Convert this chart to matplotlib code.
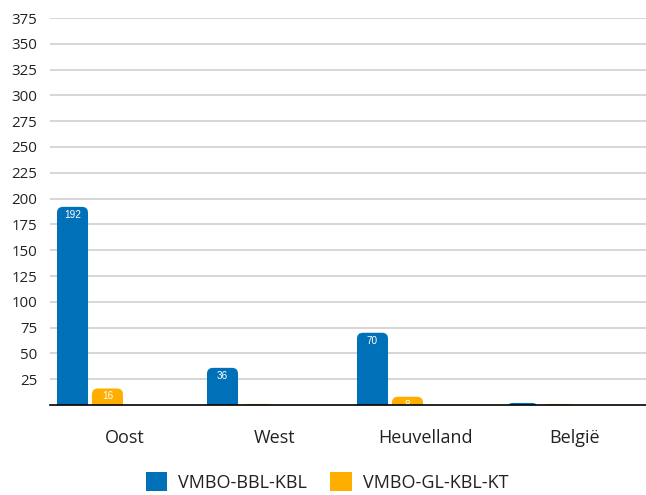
import matplotlib
matplotlib.use("Agg")
import matplotlib.pyplot as plt
from matplotlib.patches import FancyBboxPatch, Patch
import numpy as np

categories = ["Oost", "West", "Heuvelland", "België"]
series_names = ["VMBO-BBL-KBL", "VMBO-GL-KBL-KT"]
bbl_kbl = [192, 36, 70, 2]
gl_kbl_kt = [16, 1, 8, 1]
yticks = [25, 50, 75, 100, 125, 150, 175, 200, 225, 250, 275, 300, 325, 350, 375]

colors = ["#0071b8", "#ffae00"]

plt.rcParams['font.family'] = ['Open Sans', 'DejaVu Sans']

W, H = 646, 495
fig = plt.figure(figsize=(W / 100, H / 100), dpi=100)
ax = fig.add_axes([50 / W, 90 / H, 600 / W, 387 / H])
ax.set_xlim(-0.5, 3.5)
ax.set_ylim(0, 375)

x = np.arange(len(categories))
width = 0.207
offsets = [-0.35, -0.117]

ax.set_yticks(yticks)
ax.set_yticklabels([str(t) for t in yticks], fontsize=10.8, color="#222222")
ax.set_xticks(x)
ax.set_xticklabels(categories, fontsize=13, color="#222222")
ax.tick_params(axis='y', length=0, pad=9)
ax.tick_params(axis='x', length=0, pad=17)
ax.grid(axis='y', color="#d0d0d0", linewidth=1.2)
ax.set_axisbelow(True)
for s in ["top", "right", "left"]:
    ax.spines[s].set_visible(False)
ax.spines["bottom"].set_color("black")
ax.spines["bottom"].set_linewidth(1.2)
ax.spines["bottom"].set_zorder(5)

fig.canvas.draw()
# data units per pixel
xpp = 4.0 / 600
ypp = 375.0 / 387
r_px = 6

for vals, off, col in zip([bbl_kbl, gl_kbl_kt], offsets, colors):
    bars = ax.bar(x + off, vals, width, color=col)
    for b, v in zip(bars, vals):
        b.set_visible(False)
        x0, w, h = b.get_x(), b.get_width(), b.get_height()
        p = FancyBboxPatch((x0, -r_px * ypp * 2), w, h + r_px * ypp * 2,
                           boxstyle=f"round,pad=0,rounding_size={r_px * xpp}",
                           mutation_aspect=ypp / xpp,
                           facecolor=col, edgecolor="none", zorder=3,
                           clip_on=True)
        ax.add_patch(p)
        ax.text(x0 + w / 2, h - 8 * ypp, str(v), ha="center", va="center",
                color="white", fontsize=7.2, family=["Liberation Sans"],
                zorder=4, clip_on=True)

handles = [Patch(facecolor=c, edgecolor="none") for c in colors]
fig.legend(handles, series_names, loc="center", bbox_to_anchor=(327 / W, 1 - 482 / H),
           ncol=2, frameon=False, fontsize=13, handlelength=1.2, handleheight=1.2,
           handletextpad=0.6, columnspacing=1.3, labelcolor="#222222")

fig.savefig("out.png", dpi=100)
